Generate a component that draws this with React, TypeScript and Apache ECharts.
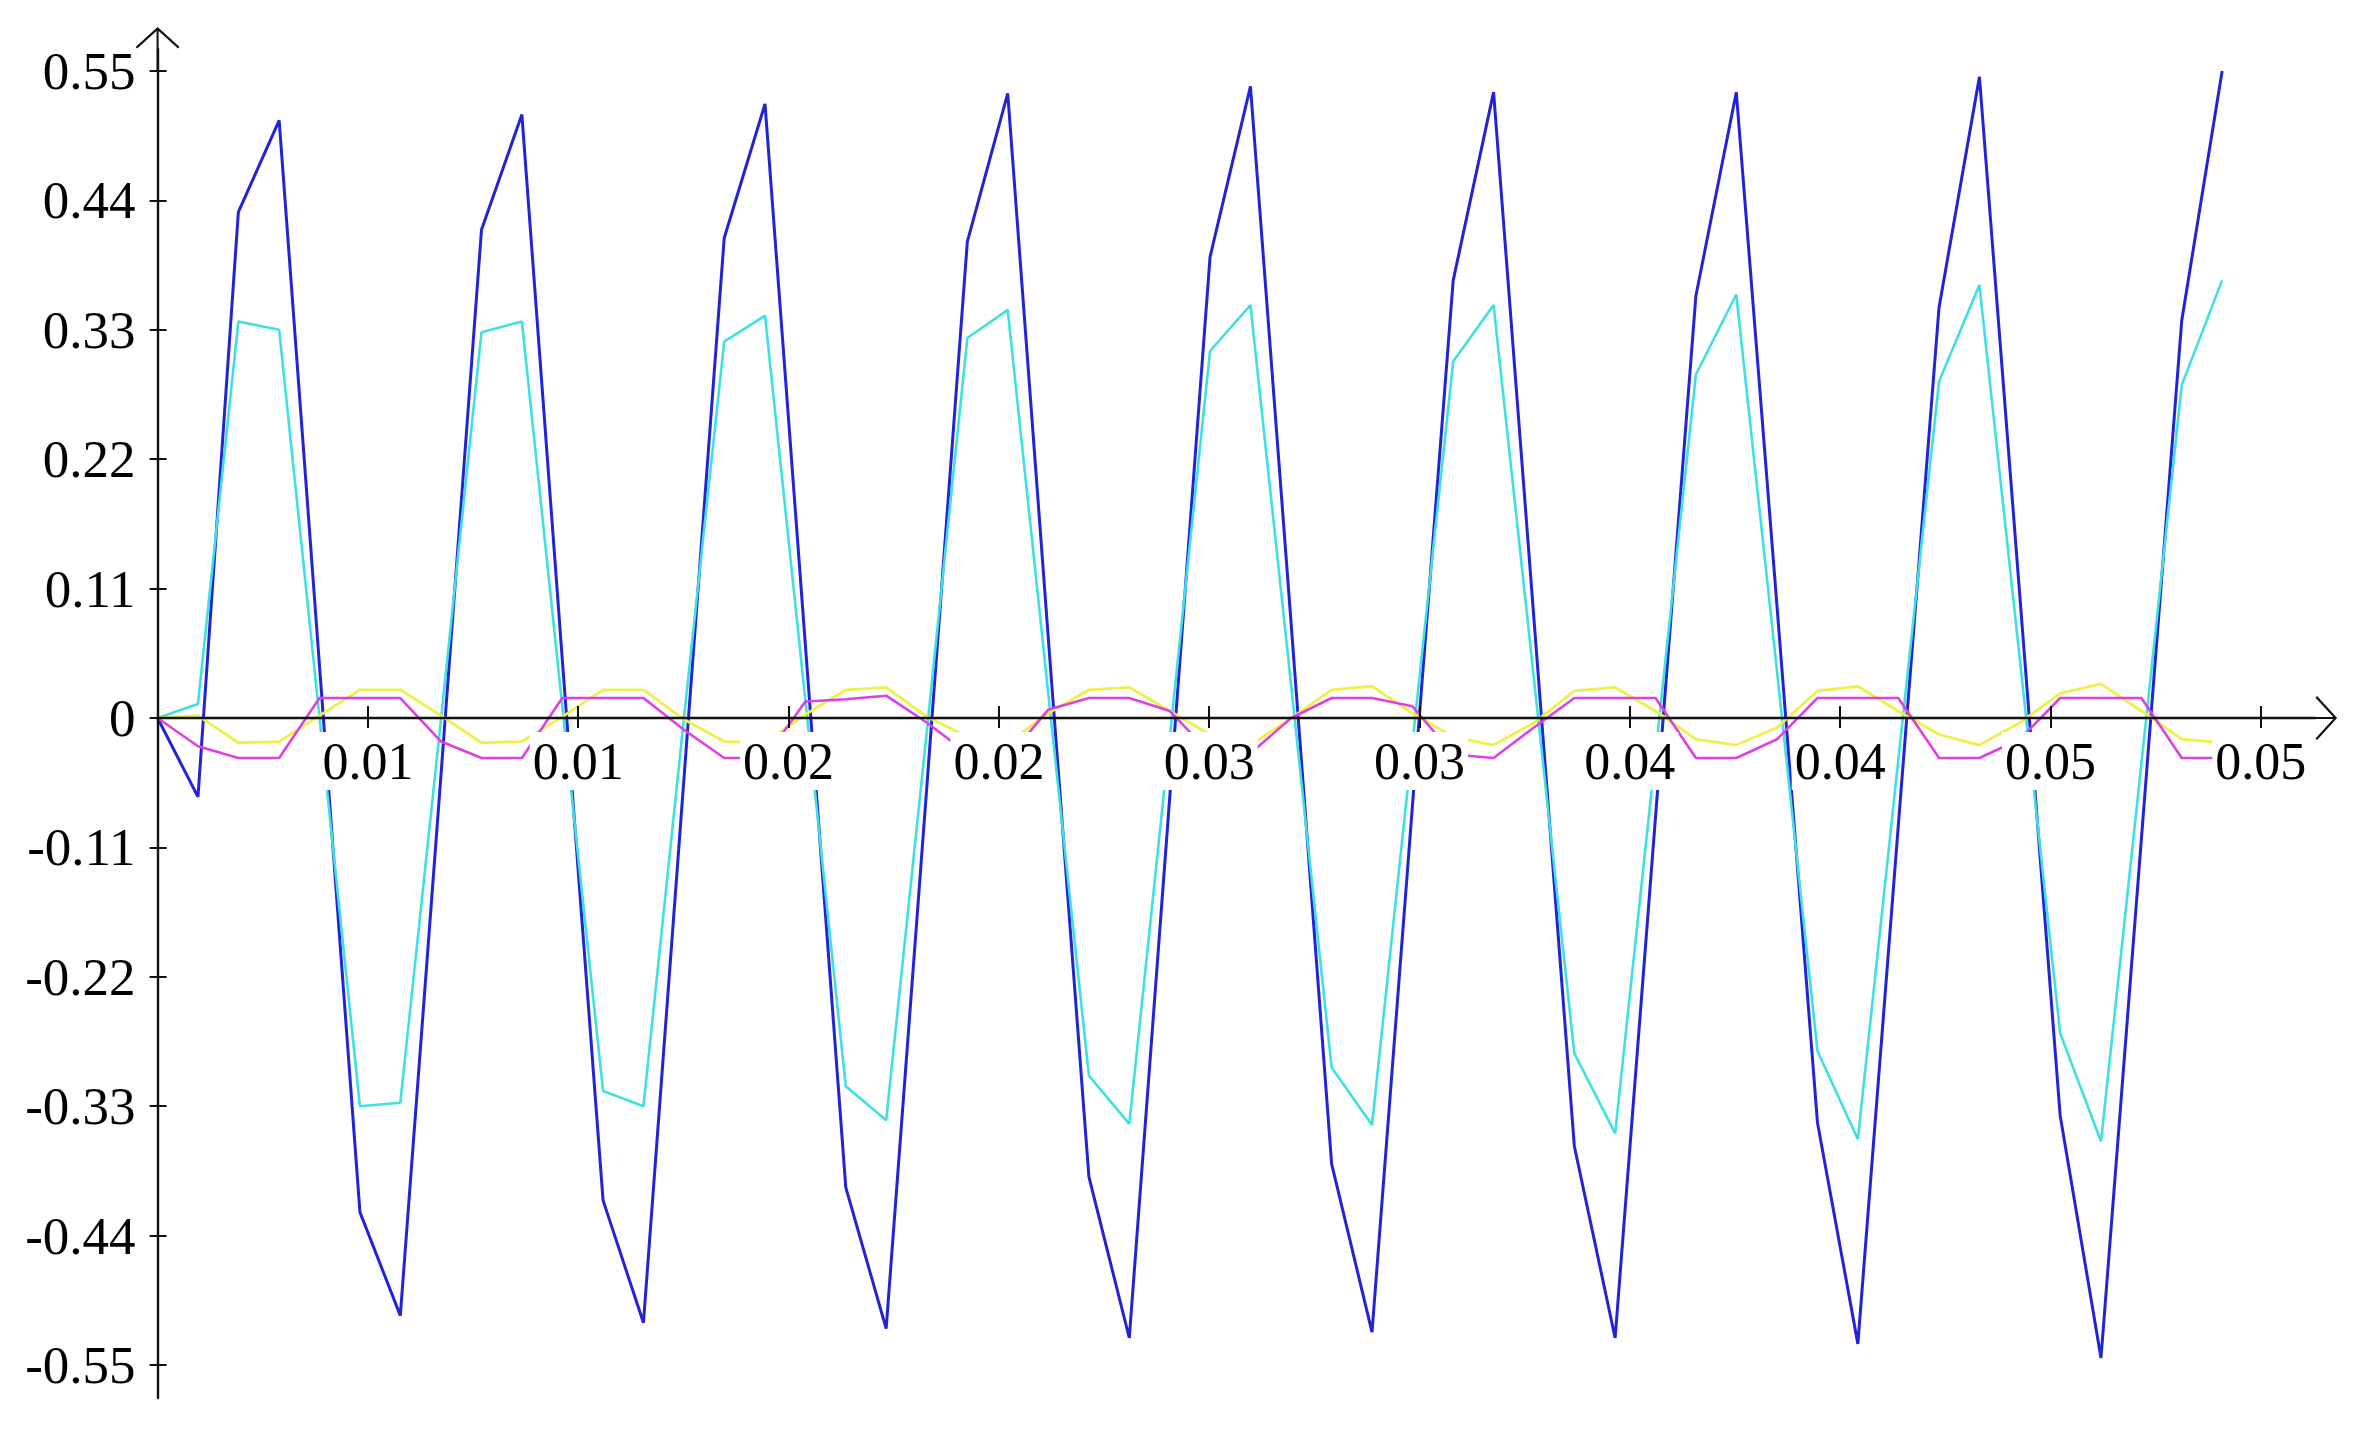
import React, { useEffect, useRef } from "react";
import * as echarts from "echarts";

// Sample times (s)
const time = [
  0, 0.00096, 0.00192, 0.00289, 0.00385, 0.00481, 0.00577, 0.00674, 0.0077, 0.00866,
  0.00962, 0.01059, 0.01155, 0.01251, 0.01347, 0.01444, 0.0154, 0.01636, 0.01732, 0.01829,
  0.01925, 0.02021, 0.02117, 0.02214, 0.0231, 0.02406, 0.02502, 0.02598, 0.02695, 0.02791,
  0.02887, 0.02983, 0.0308, 0.03176, 0.03272, 0.03368, 0.03465, 0.03561, 0.03657, 0.03753,
  0.0385, 0.03946, 0.04042, 0.04138, 0.04235, 0.04331, 0.04427, 0.04523, 0.0462, 0.04716,
  0.04812, 0.04908,
];

const blueValues = [
  0, -0.067, 0.43, 0.508, 0.044, -0.42, -0.508, -0.047, 0.415, 0.513,
  0.05, -0.41, -0.514, -0.053, 0.408, 0.522, 0.062, -0.399, -0.519, -0.057,
  0.405, 0.531, 0.07, -0.39, -0.527, -0.068, 0.392, 0.537, 0.079, -0.379,
  -0.522, -0.075, 0.372, 0.532, 0.084, -0.364, -0.527, -0.084, 0.359, 0.532,
  0.094, -0.344, -0.532, -0.092, 0.349, 0.545, 0.104, -0.338, -0.544, -0.103,
  0.338, 0.55,
];

const cyanValues = [
  0, 0.012, 0.337, 0.33, 0.0, -0.33, -0.327, 0.0, 0.328, 0.337,
  0.01, -0.317, -0.33, -0.001, 0.32, 0.342, 0.015, -0.313, -0.342, -0.01,
  0.323, 0.347, 0.022, -0.304, -0.345, -0.017, 0.312, 0.351, 0.027, -0.297,
  -0.346, -0.022, 0.303, 0.351, 0.033, -0.285, -0.353, -0.03, 0.292, 0.36,
  0.039, -0.283, -0.358, -0.036, 0.286, 0.368, 0.05, -0.268, -0.36, -0.039,
  0.283, 0.372,
];

const yellowValues = [
  0, 0.002, -0.021, -0.02, 0.002, 0.024, 0.024, 0.002, -0.021, -0.02,
  0.001, 0.024, 0.024, -0.001, -0.02, -0.021, 0.003, 0.024, 0.026, 0.001,
  -0.016, -0.021, 0.004, 0.024, 0.026, 0.006, -0.014, -0.023, 0.0, 0.024,
  0.027, 0.004, -0.016, -0.023, -0.004, 0.023, 0.026, 0.006, -0.018, -0.023,
  -0.008, 0.023, 0.027, 0.006, -0.014, -0.023, -0.004, 0.021, 0.029, 0.006,
  -0.018, -0.021,
];

const magentaValues = [
  0, -0.024, -0.034, -0.034, 0.017, 0.017, 0.017, -0.02, -0.034, -0.034,
  0.017, 0.017, 0.017, -0.01, -0.034, -0.034, 0.014, 0.016, 0.019, -0.004,
  -0.03, -0.034, 0.007, 0.017, 0.017, 0.006, -0.03, -0.03, 0.0, 0.017,
  0.017, 0.01, -0.031, -0.034, -0.008, 0.017, 0.017, 0.017, -0.034, -0.034,
  -0.018, 0.017, 0.017, 0.017, -0.034, -0.034, -0.018, 0.017, 0.017, 0.017,
  -0.034, -0.034,
];

const xTickValues = [0.005, 0.01, 0.015, 0.02, 0.025, 0.03, 0.035, 0.04, 0.045, 0.05];
const xTickLabels = ["0.01", "0.01", "0.02", "0.02", "0.03", "0.03", "0.04", "0.04", "0.05", "0.05"];
const yTickValues = [-0.55, -0.44, -0.33, -0.22, -0.11, 0, 0.11, 0.22, 0.33, 0.44, 0.55];
const yTickLabels = ["-0.55", "-0.44", "-0.33", "-0.22", "-0.11", "0", "0.11", "0.22", "0.33", "0.44", "0.55"];

const seriesDefs = [
  { name: "blue", values: blueValues, color: "#2323d6", width: 3 },
  { name: "cyan", values: cyanValues, color: "#40e0e0", width: 2.6 },
  { name: "yellow", values: yellowValues, color: "#f0f04a", width: 2.8 },
  { name: "magenta", values: magentaValues, color: "#e040e0", width: 2.6 },
];

const FONT = "'Liberation Serif', 'Times New Roman', serif";
const ARROW = "path://M22,0 L44,20 L42.4,21.6 L22,2.9 L1.6,21.6 L0,20 Z M21,1 L23,1 L23,44 L21,44 Z";

// layout (pixels)
const GRID_LEFT = 157.6;
const GRID_RIGHT = 51.9;
const GRID_TOP = 49;
const GRID_BOTTOM = 34;
const Y_MIN = -0.578;
const Y_MAX = 0.5687;
const X_MAX = 0.05129;

function labelFor(values: number[], labels: string[], v: number): string {
  let best = 0;
  for (let i = 1; i < values.length; i++) {
    if (Math.abs(values[i] - v) < Math.abs(values[best] - v)) best = i;
  }
  return labels[best];
}

export default function App() {
  const ref = useRef<HTMLDivElement>(null);

  useEffect(() => {
    if (!ref.current) return;
    const chart = echarts.init(ref.current, undefined, { renderer: "svg" });
    const axisColor = "#111";
    const plotH = 1432 - GRID_TOP - GRID_BOTTOM;
    // distance from the bottom edge of the grid up to the y = 0 line
    const zeroOffset = -(plotH * (0 - Y_MIN)) / (Y_MAX - Y_MIN);

    const option: any = {
      animation: false,
      backgroundColor: "#ffffff",
      grid: {
        left: GRID_LEFT,
        right: GRID_RIGHT,
        top: GRID_TOP,
        bottom: GRID_BOTTOM,
        containLabel: false,
        outerBoundsMode: "none",
      },
      xAxis: [
        {
          type: "value",
          min: 0,
          max: X_MAX,
          position: "bottom",
          offset: zeroOffset,
          z: 10,
          axisLine: {
            show: true,
            onZero: false,
            symbol: ["none", ARROW],
            symbolSize: [44, 44],
            lineStyle: { color: axisColor, width: 2.4 },
          },
          axisTick: {
            show: true,
            inside: false,
            length: 10,
            customValues: xTickValues,
            lineStyle: { color: axisColor, width: 2 },
          },
          axisLabel: {
            show: true,
            customValues: xTickValues,
            formatter: (v: number) => labelFor(xTickValues, xTickLabels, v),
            margin: 14,
            fontFamily: FONT,
            fontSize: 52,
            color: "#000",
            lineHeight: 58,
            backgroundColor: "#ffffff",
            padding: [0, 3, 0, 3],
          },
          splitLine: { show: false },
        },
        {
          type: "value",
          min: 0,
          max: X_MAX,
          position: "bottom",
          offset: zeroOffset,
          z: 10,
          axisLine: { show: false, onZero: false },
          axisTick: {
            show: true,
            inside: true,
            length: 12,
            customValues: xTickValues,
            lineStyle: { color: axisColor, width: 2 },
          },
          axisLabel: { show: false },
          splitLine: { show: false },
        },
      ],
      yAxis: [
        {
          type: "value",
          min: Y_MIN,
          max: Y_MAX,
          position: "left",
          z: 10,
          axisLine: {
            show: true,
            onZero: false,
            symbol: ["none", ARROW],
            symbolSize: [44, 44],
            lineStyle: { color: axisColor, width: 2.4 },
          },
          axisTick: {
            show: true,
            inside: false,
            length: 8,
            customValues: yTickValues,
            lineStyle: { color: axisColor, width: 2 },
          },
          axisLabel: {
            show: true,
            customValues: yTickValues,
            formatter: (v: number) => labelFor(yTickValues, yTickLabels, v),
            margin: 22,
            fontFamily: FONT,
            fontSize: 53,
            color: "#000",
          },
          splitLine: { show: false },
        },
        {
          type: "value",
          min: Y_MIN,
          max: Y_MAX,
          position: "left",
          z: 10,
          axisLine: { show: false, onZero: false },
          axisTick: {
            show: true,
            inside: true,
            length: 9,
            customValues: yTickValues,
            lineStyle: { color: axisColor, width: 2 },
          },
          axisLabel: { show: false },
          splitLine: { show: false },
        },
      ],
      series: seriesDefs.map((s, k) => ({
        name: s.name,
        type: "line",
        xAxisIndex: 0,
        yAxisIndex: 0,
        data: time.map((t, i) => [t, s.values[i]]),
        showSymbol: false,
        symbol: "none",
        silent: true,
        z: 2 + k * 0.1,
        lineStyle: { color: s.color, width: s.width },
        itemStyle: { color: s.color },
      })),
    };

    chart.setOption(option);
    return () => chart.dispose();
  }, []);

  return (
    <div
      ref={ref}
      style={{ position: "fixed", left: 0, top: 0, width: 2367, height: 1432, background: "#fff" }}
    />
  );
}
